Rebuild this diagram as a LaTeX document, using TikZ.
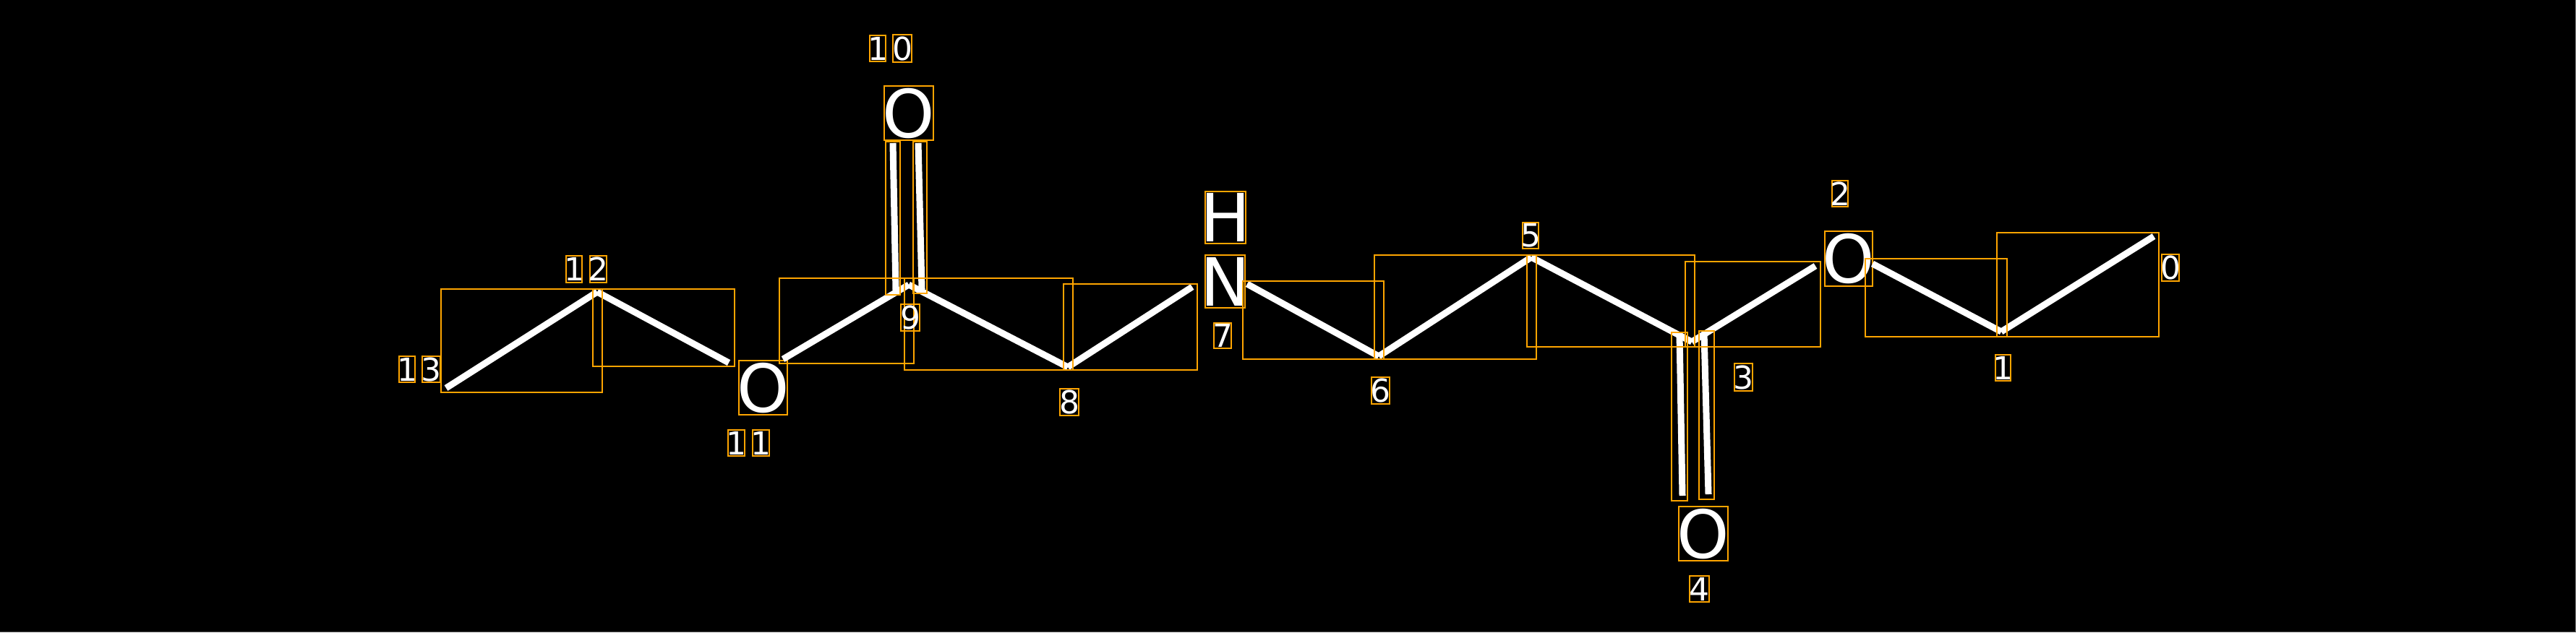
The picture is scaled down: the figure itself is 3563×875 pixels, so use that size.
\documentclass[tikz,border=0pt]{standalone}
\usepackage{fontspec}
\setmainfont{DejaVu Sans}
\definecolor{oline}{HTML}{FFA500}
\newcommand{\ctrbox}[1]{\makebox[0pt]{#1}}
\begin{document}
\begin{tikzpicture}[x=0.5pt,y=-0.5pt,
  bond/.style={draw=white, line width=4.5pt},
  bbox/.style={draw=oline, line width=1pt},
  atom/.style={draw=oline, line width=1pt, text=white, inner sep=0pt,
    font=\fontsize{46}{46}\selectfont},
  idx/.style={draw=oline, line width=1pt, text=white, inner sep=0pt,
    font=\fontsize{22}{22}\selectfont},
]
\fill[black] (0,0) rectangle (3563,875);
\useasboundingbox (0,0) rectangle (3563,875);
\draw[gray, line width=0.5pt] (3562.5,0) -- (3562.5,875);
\draw[gray!60!black, line width=0.5pt] (0,874.5) -- (3563,874.5);

% ---------- atoms (hetero) ----------
\node[atom, minimum width=33.5pt, minimum height=37.5pt] (o11) at (1055.5,536.5) {\ctrbox{O}};
\node[atom, minimum width=34pt, minimum height=37.5pt] (o10) at (1257,156.5) {\ctrbox{O}};
\node[atom, minimum width=28pt, minimum height=36pt] (h7) at (1695,301) {\ctrbox{H}};
\node[atom, minimum width=27.5pt, minimum height=36.5pt] (n7) at (1694.5,389.5) {\ctrbox{N}};
\node[atom, minimum width=34pt, minimum height=37.5pt] (o4) at (2356,738.5) {\ctrbox{O}};
\node[atom, minimum width=33pt, minimum height=38pt] (o2) at (2557,358) {\ctrbox{O}};

% ---------- skeleton points ----------
\coordinate (c13) at (617,537);
\coordinate (c12) at (826,404);
\coordinate (e11a) at (1008,502);
\coordinate (e11b) at (1083,497);
\coordinate (c9) at (1257,394);
\coordinate (d10l) at (1235,198);
\coordinate (d9l) at (1239,402);
\coordinate (d10r) at (1270,198);
\coordinate (d9r) at (1275,400);
\coordinate (c8) at (1477,508);
\coordinate (e7a) at (1649,397);
\coordinate (e7b) at (1725,393);
\coordinate (c6) at (1907,493);
\coordinate (c5) at (2118,356);
\coordinate (c3) at (2340,473);
\coordinate (d3l) at (2323,463);
\coordinate (d4l) at (2327,686);
\coordinate (d3r) at (2357,461);
\coordinate (d4r) at (2363,684);
\coordinate (e2a) at (2511,368);
\coordinate (e2b) at (2590,365);
\coordinate (c1) at (2768,459);
\coordinate (c0) at (2979,327);

% ---------- bonds ----------
\draw[bond] (c13) -- (c12);
\draw[bond] (c12) -- (e11a);
\draw[bond] (e11b) -- (c9);
\draw[bond] (d10l) -- (d9l);
\draw[bond] (d10r) -- (d9r);
\draw[bond] (c9) -- (c8);
\draw[bond] (c8) -- (e7a);
\draw[bond] (e7b) -- (c6);
\draw[bond] (c6) -- (c5);
\draw[bond] (c5) -- (c3);
\draw[bond] (d3l) -- (d4l);
\draw[bond] (d3r) -- (d4r);
\draw[bond] (c3) -- (e2a);
\draw[bond] (e2b) -- (c1);
\draw[bond] (c1) -- (c0);

% ---------- bond boxes ----------
\draw[bbox] (610,400) rectangle (833,543);
\draw[bbox] (820,400) rectangle (1016,507);
\draw[bbox] (1078,385) rectangle (1264,503);
\draw[bbox] (1225,196) rectangle (1245,408);
\draw[bbox] (1263,196) rectangle (1282,406);
\draw[bbox] (1251,385) rectangle (1484,512);
\draw[bbox] (1471,393) rectangle (1656,512);
\draw[bbox] (1719,389) rectangle (1914,497);
\draw[bbox] (1901,353) rectangle (2125,497);
\draw[bbox] (2112,353) rectangle (2344,480);
\draw[bbox] (2312,460) rectangle (2334,693);
\draw[bbox] (2350,458) rectangle (2371,691);
\draw[bbox] (2331,362) rectangle (2518,480);
\draw[bbox] (2580,358) rectangle (2776,466);
\draw[bbox] (2762,322) rectangle (2986,466);

% ---------- index labels ----------
\node[idx, minimum width=11pt, minimum height=18pt] (i13a) at (563,511) {\ctrbox{1}};
\node[idx, minimum width=12.5pt, minimum height=18pt] (i13b) at (596.5,511) {\ctrbox{3}};
\node[idx, minimum width=11pt, minimum height=18.5pt] (i12a) at (794,372.5) {\ctrbox{1}};
\node[idx, minimum width=11.5pt, minimum height=18.5pt] (i12b) at (827.5,372.5) {\ctrbox{2}};
\node[idx, minimum width=11.5pt, minimum height=18pt] (i11a) at (1018.5,613) {\ctrbox{1}};
\node[idx, minimum width=11.5pt, minimum height=18pt] (i11b) at (1052.5,613) {\ctrbox{1}};
\node[idx, minimum width=11pt, minimum height=18pt] (i10a) at (1214,67) {\ctrbox{1}};
\node[idx, minimum width=13pt, minimum height=19pt] (i10b) at (1248,67) {\ctrbox{0}};
\node[idx, minimum width=13pt, minimum height=18.5pt] (i9) at (1259,439.5) {\ctrbox{9}};
\node[idx, minimum width=13pt, minimum height=18.5pt] (i8) at (1479,556.5) {\ctrbox{8}};
\node[idx, minimum width=12pt, minimum height=17.5pt] (i7) at (1691,464.5) {\ctrbox{7}};
\node[idx, minimum width=12.5pt, minimum height=18.5pt] (i6) at (1909.5,540.5) {\ctrbox{6}};
\node[idx, minimum width=11pt, minimum height=18pt] (i5) at (2117,326) {\ctrbox{5}};
\node[idx, minimum width=13.5pt, minimum height=18pt] (i4) at (2350.5,815) {\ctrbox{4}};
\node[idx, minimum width=12.5pt, minimum height=19pt] (i3) at (2411.5,522) {\ctrbox{3}};
\node[idx, minimum width=11pt, minimum height=18pt] (i2) at (2545,268) {\ctrbox{2}};
\node[idx, minimum width=10.5pt, minimum height=18pt] (i1) at (2770.5,509) {\ctrbox{1}};
\node[idx, minimum width=12pt, minimum height=18.5pt] (i0) at (3002,370.5) {\ctrbox{0}};
\end{tikzpicture}
\end{document}
